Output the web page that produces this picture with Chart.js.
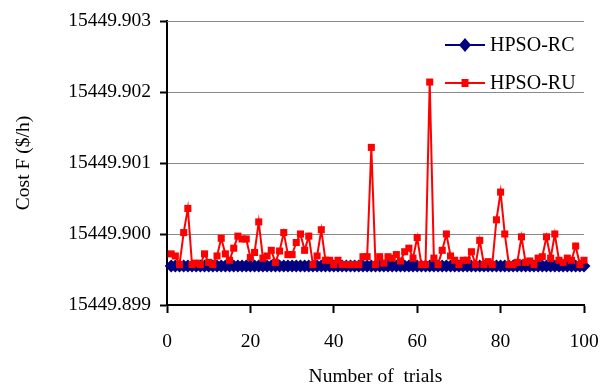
<!DOCTYPE html>
<html>
<head>
<meta charset="utf-8">
<script src="https://cdn.jsdelivr.net/npm/chart.js@4/dist/chart.umd.min.js"></script>
<style>
  html, body { margin: 0; padding: 0; background: #fff; }
  #wrap { width: 600px; height: 387px; }
</style>
</head>
<body>
<div id="wrap"><canvas id="grafica" width="600" height="387"></canvas></div>
<script>
/* ---------- Datos ---------- */
const trials = [
  1, 2, 3, 4, 5, 6, 7, 8, 9, 10, 11, 12, 13, 14, 15, 16, 17, 18, 19, 20,
  21, 22, 23, 24, 25, 26, 27, 28, 29, 30, 31, 32, 33, 34, 35, 36, 37, 38, 39, 40,
  41, 42, 43, 44, 45, 46, 47, 48, 49, 50, 51, 52, 53, 54, 55, 56, 57, 58, 59, 60,
  61, 62, 63, 64, 65, 66, 67, 68, 69, 70, 71, 72, 73, 74, 75, 76, 77, 78, 79, 80,
  81, 82, 83, 84, 85, 86, 87, 88, 89, 90, 91, 92, 93, 94, 95, 96, 97, 98, 99, 100
];

const hpsoRC = [
  15449.89955, 15449.89955, 15449.89955, 15449.89955, 15449.89955, 15449.89955, 15449.89955, 15449.89955, 15449.89955, 15449.89955,
  15449.89955, 15449.89955, 15449.89955, 15449.89955, 15449.89955, 15449.89955, 15449.89955, 15449.89955, 15449.89955, 15449.89955,
  15449.89955, 15449.89955, 15449.89955, 15449.89955, 15449.89955, 15449.89955, 15449.89955, 15449.89955, 15449.89955, 15449.89955,
  15449.89955, 15449.89955, 15449.89955, 15449.89955, 15449.89955, 15449.89955, 15449.89955, 15449.89955, 15449.89955, 15449.89955,
  15449.89955, 15449.89955, 15449.89955, 15449.89955, 15449.89955, 15449.89955, 15449.89955, 15449.89955, 15449.89955, 15449.89955,
  15449.89955, 15449.89955, 15449.89955, 15449.89955, 15449.89955, 15449.89955, 15449.89955, 15449.89955, 15449.89955, 15449.89955,
  15449.89955, 15449.89955, 15449.89955, 15449.89955, 15449.89955, 15449.89955, 15449.89955, 15449.89955, 15449.89955, 15449.89955,
  15449.89955, 15449.89955, 15449.89955, 15449.89955, 15449.89955, 15449.89955, 15449.89955, 15449.89955, 15449.89955, 15449.89955,
  15449.89955, 15449.89955, 15449.89955, 15449.89955, 15449.89955, 15449.89955, 15449.89955, 15449.89955, 15449.89955, 15449.89955,
  15449.89955, 15449.89955, 15449.89955, 15449.89955, 15449.89955, 15449.89955, 15449.89955, 15449.89955, 15449.89955, 15449.89955
];

const hpsoRU = [
  15449.89972, 15449.89969, 15449.89957, 15449.90002, 15449.90036, 15449.89957, 15449.89959, 15449.89957, 15449.89972, 15449.89960,
  15449.89957, 15449.89969, 15449.89994, 15449.89972, 15449.89963, 15449.89980, 15449.89997, 15449.89993, 15449.89993, 15449.89967,
  15449.89974, 15449.90017, 15449.89966, 15449.89969, 15449.89977, 15449.89960, 15449.89976, 15449.90002, 15449.89971, 15449.89971,
  15449.89988, 15449.90000, 15449.89977, 15449.89997, 15449.89957, 15449.89969, 15449.90006, 15449.89963, 15449.89963, 15449.89957,
  15449.89963, 15449.89957, 15449.89957, 15449.89957, 15449.89957, 15449.89957, 15449.89968, 15449.89968, 15449.90122, 15449.89957,
  15449.89968, 15449.89959, 15449.89968, 15449.89966, 15449.89971, 15449.89962, 15449.89975, 15449.89980, 15449.89966, 15449.89995,
  15449.89957, 15449.89957, 15449.90214, 15449.89966, 15449.89957, 15449.89977, 15449.90000, 15449.89969, 15449.89963, 15449.89957,
  15449.89963, 15449.89963, 15449.89975, 15449.89957, 15449.89991, 15449.89957, 15449.89961, 15449.89957, 15449.90020, 15449.90059,
  15449.90000, 15449.89957, 15449.89957, 15449.89960, 15449.89996, 15449.89960, 15449.89962, 15449.89957, 15449.89966, 15449.89968,
  15449.89996, 15449.89966, 15449.90000, 15449.89963, 15449.89960, 15449.89966, 15449.89963, 15449.89983, 15449.89957, 15449.89963
];

const nombres = ['HPSO-RC', 'HPSO-RU'];
const xTicks = [0, 20, 40, 60, 80, 100];
const yTicks = [15449.899, 15449.900, 15449.901, 15449.902, 15449.903];
const tituloX = 'Number of  trials';
const tituloY = 'Cost F ($/h)';

/* ---------- Estilo ---------- */
const FUENTE = "'Liberation Serif', 'Times New Roman', serif";
const AZUL = '#000080';
const ROJO = '#ff0000';
const GRIS = '#8a8a8a';

const puntos = serie => trials.map((t, i) => ({ x: t, y: serie[i] }));

// Chart.js no llega a pintar la linea de rejilla del borde superior: la trazamos aqui
const rejillaSuperior = {
  id: 'rejillaSuperior',
  beforeDatasetsDraw(chart) {
    const { ctx, chartArea, scales } = chart;
    const y = Math.round(scales.y.getPixelForValue(scales.y.max)) + 0.5;
    ctx.save();
    ctx.strokeStyle = GRIS;
    ctx.lineWidth = 1;
    ctx.beginPath(); ctx.moveTo(chartArea.left, y); ctx.lineTo(chartArea.right, y); ctx.stroke();
    ctx.restore();
  },
};

// Leyenda dentro del area de la grafica (arriba a la derecha), dibujada a mano
const leyenda = {
  id: 'leyenda',
  afterDatasetsDraw(chart) {
    const ctx = chart.ctx;
    const x0 = 445, x1 = 485, xm = 465, xt = 490;
    const filas = [45, 83];
    chart.data.datasets.forEach((ds, i) => {
      const y = filas[i];
      ctx.save();
      ctx.strokeStyle = ds.borderColor;
      ctx.fillStyle = ds.borderColor;
      ctx.lineWidth = 2;
      ctx.beginPath(); ctx.moveTo(x0, y); ctx.lineTo(x1, y); ctx.stroke();
      ctx.beginPath();
      if (ds.pointStyle === 'rectRot') {
        ctx.moveTo(xm - 6, y); ctx.lineTo(xm, y - 7); ctx.lineTo(xm + 6, y); ctx.lineTo(xm, y + 7);
      } else {
        ctx.rect(xm - 3.5, y - 4, 7, 8);
      }
      ctx.closePath(); ctx.fill();
      ctx.fillStyle = '#000';
      ctx.font = '20px ' + FUENTE;
      ctx.textAlign = 'left';
      ctx.textBaseline = 'middle';
      ctx.fillText(ds.label, xt, y + 1);
      ctx.restore();
    });
  },
};

new Chart(document.getElementById('grafica'), {
  type: 'line',
  data: {
    datasets: [
      {
        label: nombres[0], data: puntos(hpsoRC),
        borderColor: AZUL, backgroundColor: AZUL, borderWidth: 2,
        pointStyle: 'rectRot', pointRadius: 6.5, pointBorderWidth: 0,
        pointBackgroundColor: AZUL, tension: 0, clip: false, order: 2,
      },
      {
        label: nombres[1], data: puntos(hpsoRU),
        borderColor: ROJO, backgroundColor: ROJO, borderWidth: 2,
        pointStyle: 'rect', pointRadius: 5, pointBorderWidth: 0,
        pointBackgroundColor: ROJO, tension: 0, clip: false, order: 1,
      },
    ],
  },
  options: {
    responsive: false,
    animation: false,
    events: [],
    layout: { padding: { top: 21, right: 16, left: 0, bottom: 0 } },
    plugins: { legend: { display: false }, tooltip: { enabled: false } },
    scales: {
      x: {
        type: 'linear', min: 0, max: 100,
        afterBuildTicks: s => { s.ticks = xTicks.map(v => ({ value: v })); },
        // el margen del ultimo rotulo lo da layout.padding.right
        afterFit: s => { s.height = 82; s.paddingLeft = 0; s.paddingRight = 0; },
        grid: { drawOnChartArea: false, tickLength: 8, tickColor: '#000', tickWidth: 2 },
        border: { color: '#000', width: 2 },
        ticks: { color: '#000', padding: 17, maxRotation: 0, font: { family: FUENTE, size: 19.5 } },
        title: { display: true, text: tituloX, color: '#000', padding: 0,
                 font: { family: FUENTE, size: 19.5, lineHeight: 1 } },
      },
      y: {
        type: 'linear', min: 15449.899, max: 15449.903,
        afterBuildTicks: s => { s.ticks = yTicks.map(v => ({ value: v })); },
        afterFit: s => { s.width = 167; s.paddingTop = 0; s.paddingBottom = 0; },
        grid: { color: GRIS, lineWidth: 1, tickLength: 7,
                tickColor: '#000', tickWidth: 2 },
        border: { color: '#000', width: 2 },
        ticks: { color: '#000', padding: 9, font: { family: FUENTE, size: 19.5 },
                 callback: v => Number(v).toFixed(3) },
        title: { display: true, text: tituloY, color: '#000', padding: { top: 12, bottom: 0 },
                 font: { family: FUENTE, size: 19.5 } },
      },
    },
  },
  plugins: [rejillaSuperior, leyenda],
});
</script>
</body>
</html>
